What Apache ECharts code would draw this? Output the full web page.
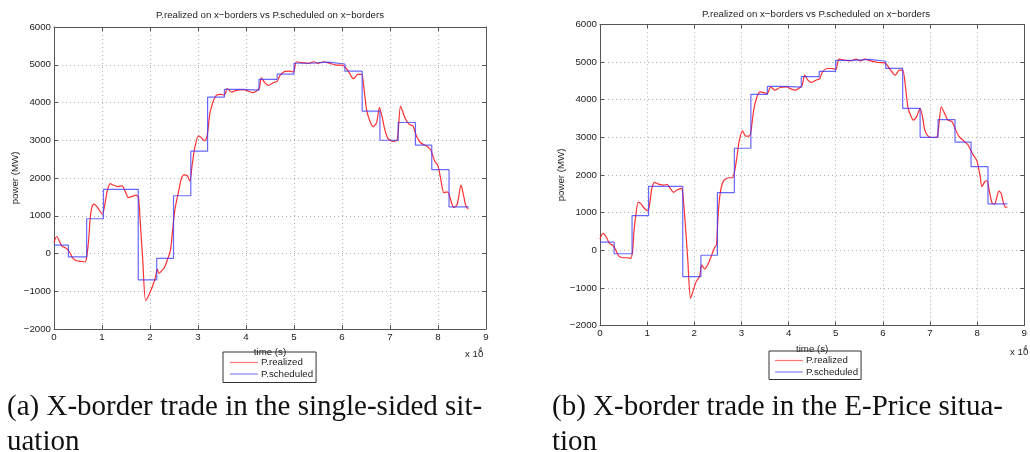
<!DOCTYPE html>
<html><head><meta charset="utf-8">
<script src="https://cdn.jsdelivr.net/npm/echarts@6/dist/echarts.min.js"></script>
<style>html,body{margin:0;padding:0;background:#fff}#c{width:1030px;height:452px}</style>
</head><body><div id="c"></div>
<script>
// ---- data (time in units of 10^4 s, power in MW) ----
const xTickValues = [0,1,2,3,4,5,6,7,8,9];
const yTickValues = [-2000,-1000,0,1000,2000,3000,4000,5000,6000];
const seriesNames = ['P.realized','P.scheduled'];
const chartTitle = 'P.realized on x\u2212borders vs P.scheduled on x\u2212borders';
const captionA = ['(a) X-border trade in the single-sided sit-','uation'];
const captionB = ['(b) X-border trade in the E-Price situa-','tion'];

// scheduled exchange: step start times and levels
const scheduleTimes  = [0, 0.30, 0.68, 1.03, 1.755, 2.14, 2.49, 2.85, 3.20, 3.55, 3.92, 4.27, 4.65, 5.00, 5.37, 5.72, 6.06, 6.42, 6.79, 7.17, 7.53, 7.87, 8.23, 8.64];
const scheduleLevels = [220, -90, 920, 1700, -700, -130, 1530, 2710, 4140, 4350, 4330, 4610, 4750, 5040, 5070, 5020, 4830, 3770, 3000, 3470, 2870, 2220, 1235, 1235];

// realized exchange, single-sided situation
const realizedA = [[0,290],[0.055,450],[0.16,204],[0.26,133],[0.33,27],[0.39,-122],[0.47,-193],[0.58,-211],[0.65,-220],[0.68,-106],[0.72,336],[0.75,865],[0.78,1174],[0.83,1306],[0.90,1235],[0.96,1112],[1.01,1040],[1.06,1306],[1.11,1659],[1.17,1852],[1.24,1808],[1.34,1773],[1.42,1790],[1.48,1659],[1.55,1482],[1.62,1509],[1.71,1544],[1.76,1482],[1.80,777],[1.85,-193],[1.91,-1251],[2.00,-1031],[2.08,-767],[2.12,-591],[2.15,-413],[2.19,-530],[2.24,-460],[2.30,-370],[2.38,-106],[2.43,115],[2.47,600],[2.52,1174],[2.59,1615],[2.66,2012],[2.71,2083],[2.78,2056],[2.83,1924],[2.88,2364],[2.94,2849],[3.01,3114],[3.07,3070],[3.14,2981],[3.19,3114],[3.25,3730],[3.32,4039],[3.38,4190],[3.47,4216],[3.55,4199],[3.61,4365],[3.70,4277],[3.80,4321],[3.94,4339],[4.05,4304],[4.14,4260],[4.22,4304],[4.28,4392],[4.32,4656],[4.39,4524],[4.46,4454],[4.57,4524],[4.65,4568],[4.71,4718],[4.81,4824],[4.91,4833],[4.99,4806],[5.05,5080],[5.16,5054],[5.30,5036],[5.41,5080],[5.50,5036],[5.61,5080],[5.75,5036],[5.88,4992],[6.02,4983],[6.13,4833],[6.24,4630],[6.33,4744],[6.41,4744],[6.46,4349],[6.51,3820],[6.58,3510],[6.65,3360],[6.72,3466],[6.78,3862],[6.84,3598],[6.89,3290],[6.96,3043],[7.06,2972],[7.15,3007],[7.22,3907],[7.31,3598],[7.40,3422],[7.48,3378],[7.55,3114],[7.65,2920],[7.76,2849],[7.85,2743],[7.93,2452],[8.00,2320],[8.07,1878],[8.12,1614],[8.19,1632],[8.23,1570],[8.28,1350],[8.33,1217],[8.40,1305],[8.48,1809],[8.52,1614],[8.58,1261],[8.63,1173]];

// realized exchange, E-Price situation
const realizedB = [[0,300],[0.06,451],[0.13,361],[0.20,184],[0.28,122],[0.35,-37],[0.40,-152],[0.48,-196],[0.58,-196],[0.65,-214],[0.69,-37],[0.72,494],[0.76,936],[0.81,1273],[0.86,1247],[0.93,1132],[1.02,1052],[1.06,1291],[1.10,1644],[1.16,1803],[1.24,1759],[1.35,1732],[1.42,1750],[1.49,1644],[1.56,1538],[1.63,1600],[1.72,1644],[1.75,1573],[1.80,849],[1.86,-214],[1.92,-1273],[1.97,-1096],[2.04,-830],[2.11,-697],[2.16,-388],[2.22,-494],[2.29,-370],[2.37,-122],[2.43,72],[2.47,142],[2.51,1026],[2.56,1600],[2.63,1865],[2.74,1927],[2.81,1927],[2.86,2130],[2.91,2528],[2.95,2882],[3.02,3173],[3.09,3032],[3.16,3032],[3.20,3147],[3.26,3722],[3.33,4075],[3.40,4208],[3.48,4181],[3.55,4163],[3.62,4340],[3.71,4252],[3.82,4323],[3.96,4340],[4.06,4278],[4.15,4252],[4.23,4314],[4.29,4385],[4.34,4650],[4.41,4517],[4.48,4455],[4.58,4517],[4.66,4561],[4.72,4738],[4.82,4827],[4.93,4827],[5.00,4800],[5.07,5074],[5.17,5048],[5.31,5030],[5.43,5074],[5.52,5030],[5.62,5074],[5.76,5021],[5.90,4986],[6.04,4977],[6.14,4827],[6.26,4650],[6.35,4783],[6.42,4783],[6.48,4340],[6.53,3810],[6.60,3544],[6.65,3456],[6.72,3562],[6.79,3766],[6.84,3544],[6.89,3191],[6.96,3032],[7.05,2996],[7.15,3014],[7.24,3810],[7.31,3633],[7.38,3456],[7.47,3412],[7.54,3209],[7.61,3032],[7.71,2908],[7.81,2793],[7.88,2616],[7.93,2501],[7.99,2395],[8.06,1997],[8.10,1688],[8.16,1821],[8.21,1847],[8.26,1556],[8.32,1247],[8.37,1229],[8.42,1424],[8.46,1574],[8.51,1512],[8.56,1247],[8.61,1141],[8.64,1159]];

// ---- chart ----
const FONT = 'Liberation Sans';
const SERIF = 'Liberation Serif';
const FS = 9.7;
const TXT = '#222';
const AX = '#555';
const RED = '#ff1a1a';
const BLUE = '#3535ff';
const schedule = scheduleTimes.map((t, i) => [t, scheduleLevels[i]]);
const xMin = xTickValues[0], xMax = xTickValues[xTickValues.length-1];
const yMin = yTickValues[0], yMax = yTickValues[yTickValues.length-1];
const fmtY = v => v < 0 ? '\u2212' + Math.abs(v) : String(v);

function xAxes(gi) {
  const common = {gridIndex: gi, type: 'value', min: xMin, max: xMax, interval: 1,
    axisLine: {show: true, onZero: false, lineStyle: {color: AX, width: 1}},
    axisTick: {show: true, inside: true, length: 4, lineStyle: {color: AX}}};
  return [
    Object.assign({}, common, {position: 'bottom',
      axisLabel: {fontSize: FS, fontFamily: FONT, color: TXT, margin: 3},
      splitLine: {show: true, lineStyle: {type: [1, 3], color: '#b0b0b0', width: 1}},
      name: 'time (s)', nameLocation: 'middle', nameGap: 9,
      nameTextStyle: {fontSize: FS, fontFamily: FONT, color: TXT, verticalAlign: 'top', lineHeight: 11}}),
    Object.assign({}, common, {position: 'top', axisLabel: {show: false}, splitLine: {show: false}})
  ];
}
function yAxes(gi) {
  const common = {gridIndex: gi, type: 'value', min: yMin, max: yMax, interval: 1000,
    axisLine: {show: true, onZero: false, lineStyle: {color: AX, width: 1}},
    axisTick: {show: true, inside: true, length: 4, lineStyle: {color: AX}}};
  return [
    Object.assign({}, common, {position: 'left',
      axisLabel: {fontSize: FS, fontFamily: FONT, color: TXT, margin: 3, formatter: fmtY},
      splitLine: {show: true, lineStyle: {type: [1, 3], color: '#b0b0b0', width: 1}},
      name: 'power (MW)', nameLocation: 'middle', nameGap: 32,
      nameTextStyle: {fontSize: FS, fontFamily: FONT, color: TXT}}),
    Object.assign({}, common, {position: 'right', axisLabel: {show: false}, splitLine: {show: false}})
  ];
}
function seriesFor(gi, realized) {
  return [
    {type: 'line', name: seriesNames[0], xAxisIndex: gi*2, yAxisIndex: gi*2, data: realized,
     symbol: 'none', smooth: 0.25, lineStyle: {color: RED, width: 1.2, opacity: 0.9},
     itemStyle: {color: RED}, z: 2},
    {type: 'line', name: seriesNames[1], xAxisIndex: gi*2, yAxisIndex: gi*2, data: schedule,
     step: 'end', symbol: 'none', lineStyle: {color: BLUE, width: 1.2, opacity: 0.75},
     itemStyle: {color: BLUE}, z: 3}
  ];
}
function legendAt(left, top, pad) {
  return {orient: 'vertical', left: left, top: top, selectedMode: false,
    data: [
      {name: seriesNames[0], icon: 'rect', itemStyle: {color: RED, opacity: 0.6}},
      {name: seriesNames[1], icon: 'rect', itemStyle: {color: BLUE, opacity: 0.6}}
    ],
    borderColor: '#333', borderWidth: 1, borderRadius: 0, backgroundColor: 'rgba(255,255,255,0)',
    padding: pad, itemGap: 0.5, itemWidth: 28, itemHeight: 1.2,
    textStyle: {fontSize: FS, fontFamily: FONT, color: TXT, lineHeight: 11, padding: [0, 0, 0, -2]}};
}
function txt(x, y, text, font, size, align, extra) {
  return {type: 'text', x: x, y: y, silent: true,
    style: Object.assign({text: text, fontFamily: font, fontSize: size, fill: '#111',
      align: align || 'left', verticalAlign: 'middle'}, extra || {})};
}

const chart = echarts.init(document.getElementById('c'), null, {renderer: 'canvas'});
chart.setOption({
  animation: false,
  backgroundColor: '#fff',
  grid: [
    {left: 54, top: 27, width: 432, height: 302},
    {left: 600, top: 24.3, width: 431.6, height: 301.4}
  ],
  xAxis: xAxes(0).concat(xAxes(1)),
  yAxis: yAxes(0).concat(yAxes(1)),
  legend: [legendAt(223, 352, [5, 3, 3, 7]), legendAt(769, 351, [4, 3, 2, 6])],
  series: seriesFor(0, realizedA).concat(seriesFor(1, realizedB)),
  graphic: [
    txt(270, 15, chartTitle, FONT, FS, 'center', {fill: TXT}),
    txt(816, 14, chartTitle, FONT, FS, 'center', {fill: TXT}),
    txt(465, 354, 'x 10', FONT, FS, 'left', {fill: TXT}),
    txt(478.5, 350, '4', FONT, 6.5, 'left', {fill: TXT}),
    txt(1010, 352, 'x 10', FONT, FS, 'left', {fill: TXT}),
    txt(1023.5, 348, '4', FONT, 6.5, 'left', {fill: TXT}),
    txt(7, 407, captionA[0], SERIF, 29),
    txt(7, 442, captionA[1], SERIF, 29),
    txt(552, 407, captionB[0], SERIF, 29),
    txt(552, 442, captionB[1], SERIF, 29)
  ]
});
</script></body></html>
